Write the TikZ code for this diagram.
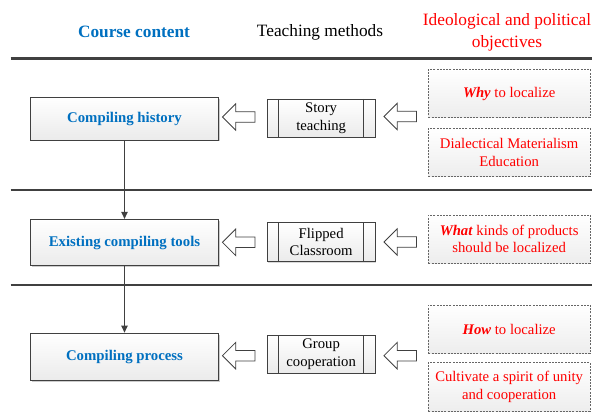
\documentclass[tikz,border=0pt]{standalone}
\usepackage{fontspec}
\setmainfont{Liberation Serif}
\usetikzlibrary{shapes.arrows,shadows,arrows.meta}
\definecolor{cblue}{RGB}{0,112,192}
\definecolor{edgec}{RGB}{64,64,64}
\begin{document}
\begin{tikzpicture}[x=1pt,y=-1pt,
  course/.style={draw=edgec, line width=0.9pt, top color=white, bottom color=black!8,
    drop shadow={shadow xshift=1.5pt, shadow yshift=-1.5pt, opacity=0.2, fill=black},
    minimum width=187.6pt, inner sep=0pt, text=cblue,
    font=\fontsize{14.8}{17}\selectfont\bfseries},
  method/.style={draw=edgec, line width=0.8pt, top color=white, bottom color=black!8,
    drop shadow={shadow xshift=1pt, shadow yshift=-1pt, opacity=0.15, fill=black},
    minimum width=107.7pt, inner sep=0pt, align=center,
    font=\fontsize{14.7}{17.3}\selectfont,
    path picture={\draw[edgec, line width=0.8pt]
      ([xshift=11.4pt]path picture bounding box.north west) -- ([xshift=11.4pt]path picture bounding box.south west)
      ([xshift=-11.4pt]path picture bounding box.north east) -- ([xshift=-11.4pt]path picture bounding box.south east);}},
  goal/.style={draw=black!60, dash pattern=on 2pt off 1.2pt, line width=0.7pt,
    top color=white, bottom color=black!7, minimum width=161.7pt, minimum height=48.4pt,
    inner sep=0pt, align=center, text=red, font=\fontsize{14.7}{17.3}\selectfont},
  hollow/.style={single arrow, draw=edgec, fill=white, line width=0.8pt,
    shape border rotate=180, minimum height=32.5pt, single arrow head extend=8pt,
    inner sep=4.85pt, minimum width=25.7pt},
  rulel/.style={line width=2.8pt, draw=black!75},
  flow/.style={draw=edgec, line width=1pt, -{Triangle[length=7pt,width=6.5pt]}},
  head/.style={font=\fontsize{17.3}{22}\selectfont, align=center}
]
\useasboundingbox (0,0) rectangle (592,414);

% headers
\node[head, text=cblue, font=\fontsize{17.3}{22}\selectfont\bfseries] (h1) at (134,32) {Course content};
\node[head] (h2) at (320,32) {Teaching methods};
\node[head, text=red] (h3) at (507,32) {Ideological and political\\objectives};

% horizontal rules
\draw[rulel] (10.7,58.3) -- (592,58.3);
\draw[rulel] (10.7,190) -- (592,190);
\draw[rulel] (10.7,285) -- (592,285);

% course content
\node[course, minimum height=42.5pt] (c1) at (124.5,118.75) {Compiling history};
\node[course, minimum height=46.4pt] (c2) at (124.5,242.5) {Existing compiling tools};
\node[course, minimum height=47.7pt] (c3) at (124.5,356.9) {Compiling process};

% teaching methods
\node[method, minimum height=38.3pt] (m1) at (321.15,118.15) {Story\\teaching};
\node[method, minimum height=39pt] (m2) at (321.15,242.2) {Flipped\\Classroom};
\node[method, minimum height=38.3pt] (m3) at (321.15,354.15) {Group\\cooperation};

% objectives
\node[goal] (d1) at (509.15,93.5) {\textbf{\textit{Why}} to localize};
\node[goal] (d2) at (509.15,152.5) {Dialectical Materialism\\Education};
\node[goal] (d3) at (509.15,239.15) {\textbf{\textit{What}} kinds of products\\should be localized};
\node[goal] (d4) at (509.15,329.15) {\textbf{\textit{How}} to localize};
\node[goal] (d5) at (509.15,386.85) {Cultivate a spirit of unity\\and cooperation};

% hollow arrows
\node[hollow] (a1) at (241.35,117) {};
\node[hollow] (a2) at (241.35,242.3) {};
\node[hollow] (a3) at (241.35,355.7) {};
\node[hollow] (b1) at (402.85,116.5) {};
\node[hollow] (b2) at (402.85,242) {};
\node[hollow] (b3) at (402.85,355.7) {};

% flow
\draw[flow] (c1.south) -- (c2.north);
\draw[flow] (c2.south) -- (c3.north);
\end{tikzpicture}
\end{document}
